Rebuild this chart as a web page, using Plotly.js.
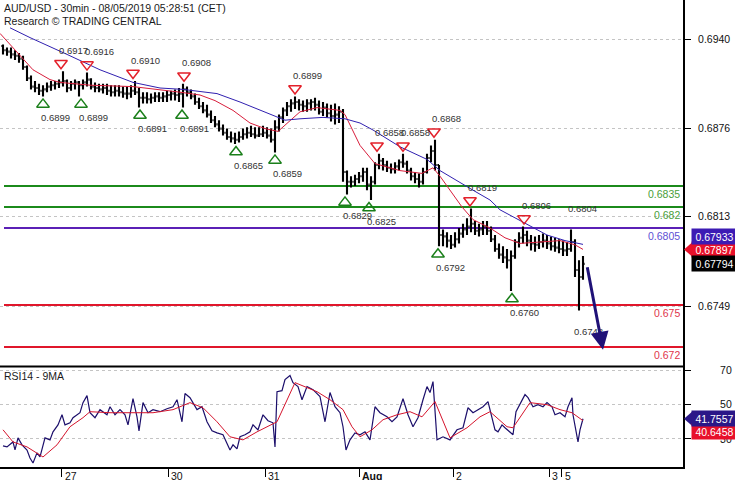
<!DOCTYPE html>
<html><head><meta charset="utf-8">
<script src="https://cdn.plot.ly/plotly-3.0.1.min.js"></script>
<style>html,body{margin:0;padding:0;background:#fff;}#chart{width:735px;height:480px;}</style>
</head><body><div id="chart"></div>
<script>
// ---- hourly bars (high / low / close) ----
const barHigh = [.6936,.6934,.6934,.6932,.6930,.6928,.6921,.6914,.6910,.6908,.6907,.6909,.6910,.6910,.6911,.6917,.6911,.6910,.6911,.6910,
.6911,.6916,.6912,.6909,.6908,.6908,.6908,.6907,.6907,.6907,.6906,.6906,.6907,.6910,.6905,.6902,.6902,.6901,.6902,.6902,
.6902,.6903,.6903,.6904,.6905,.6908,.6906,.6904,.6901,.6898,.6895,.6893,.6889,.6885,.6882,.6879,.6876,.6874,.6873,.6874,
.6876,.6877,.6878,.6877,.6877,.6878,.6877,.6876,.6882,.6886,.6891,.6895,.6897,.6899,.6897,.6896,.6897,.6897,.6898,.6896,
.6895,.6894,.6893,.6894,.6892,.6890,.6846,.6842,.6843,.6845,.6848,.6848,.6842,.6852,.6858,.6855,.6853,.6851,.6852,.6854,
.6858,.6853,.6848,.6845,.6844,.6848,.6858,.6864,.6868,.6850,.6804,.6802,.6800,.6802,.6805,.6808,.6812,.6819,.6810,.6808,
.6810,.6810,.6806,.6800,.6794,.6792,.6790,.6789,.6797,.6802,.6806,.6803,.6800,.6799,.6800,.6801,.6800,.6799,.6798,.6797,
.6796,.6795,.6804,.6797,.6782,.6785];
const barLow = [.6929,.6928,.6926,.6925,.6923,.6918,.6910,.6904,.6902,.6900,.6899,.6902,.6903,.6904,.6905,.6906,.6902,.6903,.6904,.6899,
.6904,.6906,.6904,.6902,.6902,.6901,.6900,.6899,.6899,.6899,.6898,.6897,.6898,.6900,.6891,.6894,.6894,.6894,.6895,.6895,
.6895,.6895,.6896,.6896,.6895,.6891,.6899,.6897,.6893,.6890,.6887,.6884,.6880,.6877,.6874,.6871,.6868,.6866,.6865,.6866,
.6868,.6869,.6870,.6869,.6870,.6870,.6869,.6866,.6859,.6874,.6880,.6885,.6888,.6890,.6889,.6888,.6888,.6889,.6889,.6886,
.6885,.6884,.6881,.6879,.6880,.6838,.6829,.6834,.6835,.6837,.6838,.6832,.6825,.6836,.6847,.6846,.6845,.6844,.6844,.6846,
.6848,.6844,.6839,.6837,.6834,.6836,.6844,.6852,.6846,.6792,.6792,.6791,.6790,.6791,.6794,.6798,.6800,.6802,.6800,.6799,
.6800,.6800,.6795,.6788,.6783,.6780,.6776,.6760,.6783,.6791,.6794,.6792,.6789,.6788,.6790,.6791,.6790,.6789,.6788,.6787,
.6785,.6785,.6788,.6770,.6746,.6768];
const barClose = [.6932,.6931,.6929,.6928,.6926,.6920,.6912,.6906,.6905,.6903,.6904,.6906,.6907,.6908,.6909,.6910,.6905,.6908,.6909,.6907,
.6909,.6911,.6906,.6905,.6904,.6905,.6903,.6902,.6903,.6902,.6901,.6901,.6903,.6902,.6898,.6898,.6897,.6898,.6899,.6898,
.6899,.6900,.6901,.6900,.6901,.6904,.6902,.6899,.6895,.6892,.6889,.6886,.6882,.6879,.6876,.6873,.6870,.6869,.6868,.6870,
.6872,.6873,.6872,.6871,.6872,.6873,.6871,.6868,.6877,.6884,.6889,.6892,.6894,.6895,.6893,.6892,.6894,.6895,.6893,.6888,
.6891,.6887,.6885,.6886,.6888,.6845,.6838,.6838,.6840,.6842,.6845,.6836,.6838,.6850,.6853,.6850,.6848,.6847,.6849,.6852,
.6851,.6846,.6842,.6840,.6838,.6845,.6855,.6860,.6850,.6800,.6799,.6796,.6793,.6797,.6801,.6804,.6806,.6808,.6803,.6804,
.6806,.6803,.6797,.6790,.6786,.6784,.6782,.6785,.6795,.6798,.6800,.6796,.6794,.6793,.6795,.6796,.6794,.6792,.6791,.6790,
.6789,.6790,.6795,.6775,.6770,.67794];
const firstOpen = 0.6935;

// ---- moving averages on price (x in half-hour bar units) ----
const redMaX = [0,7.5,16.5,25,30,45,66.5,90,100,107.5,116.5,125,132.5,139,145,150,158.5,165,170,172.5,180,187.5,195,200,211,216.5,220,225,231,236.5,245,252.5,260,270,280,287.5,291.5];
const redMaY = [.6944,.6932,.6918,.6911,.6909,.6907,.6906,.6902,.6900,.6896,.6889,.6880,.6876,.6874,.6882,.6888,.6891,.6890,.6889,.6886,.6864,.6851,.6848,.6846,.6844,.6848,.6842,.6832,.6820,.6811,.6805,.6798,.6794,.6795,.6796,.6793,.67897];
const blueMaX = [5,15,33.5,50,66.5,80,91.5,108.5,120,130,138.5,142.5,150,161.5,172.5,180,186.5,200,213.5,220,236.5,245,250,261.5,273.5,282.5,291.5];
const blueMaY = [.6948,.6941,.6929,.6918,.6909,.6905,.6904,.6901,.6895,.6889,.6884,.6882,.6883,.6884,.6883,.6880,.6875,.6863,.6854,.6846,.6832,.6825,.6818,.6809,.6800,.6796,.67933];

// ---- RSI14 and its 9MA ----
const rsiX = [1.5,3.5,6.5,7.5,9,11,13.5,15,16.5,18.5,20,22.5,25,26.5,29,31,32.5,35,36.5,40,41.5,43.5,45,47.5,50,53.5,55,57.5,60,62.5,
64,66.5,68.5,69.5,71.5,74,76.5,80,83.5,86.5,88.5,91,92.5,95,98.5,101,103.5,106,108.5,111.5,115,116.5,118.5,120,122.5,125,126.5,129,131.5,134,
136.5,137.5,138.5,141,142.5,145,146.5,149,151,153.5,156.5,160,162.5,165,167.5,170,171.5,173,175,177.5,180,182.5,185,187.5,190,193.5,196,198.5,201.5,204,
206.5,209,211.5,213.5,215,216.5,218.5,221.5,225,228.5,231.5,234,236.5,239,241.5,244,246,247.5,249,251,252.5,255,256.5,258,260,262.5,264,266.5,269,271.5,
273.5,276,277.5,280,282.5,284,286,286.5,289,290,291.5];
const rsiY = [25.9,25.3,28.2,23.5,30.6,26.5,23.5,18.8,15.9,21.8,19.4,30.6,29.4,34.1,38.2,44.1,38.2,39.4,42.4,45.3,51.2,55.3,45.3,42.4,47.1,44.1,48.8,44.1,47.1,44.1,
38.2,53.5,42.9,34.7,51.2,45.3,47.1,45.9,47.6,48.8,52.9,40,56.5,54.1,47.1,48.8,40,34.7,33.5,32.4,23.5,26.5,24.1,31.2,32.4,34.1,38.2,35.3,44.1,40.6,
39.4,25.3,57.6,58.2,64.7,67.1,62.9,60.6,52.9,60.6,58.8,54.7,40,57.1,48.8,45.3,37.1,23.5,29.4,33.5,32.4,34.1,29.4,48.8,45.3,42.9,40,42.9,53.5,44.1,
37.1,42.4,52.9,60.6,57.1,63.5,29.4,31.2,29.4,35.3,36.5,48.2,45.3,47.1,48.8,51.8,42.4,35.3,34.1,38.2,36.5,34.1,32.4,45.9,50,55.9,54.1,48.8,50,48.8,
51.2,48.8,44.1,45.3,42.9,48.8,54.1,44.1,28.2,35.3,41.7557];
const rsiMaX = [1.5,6.5,13.5,21.5,28.5,35,41.5,45,55,66.5,76.5,86.5,95,101.5,108.5,115,121.5,128.5,138.5,147.5,158.5,165,171.5,176,180,186,191.5,198.5,205,211,217.5,225,233.5,240,245,253.5,256.5,265,273.5,280,286,291.5];
const rsiMaY = [35.3,28.2,25.3,19.4,26.5,37.1,42.4,45.9,45.3,45.3,45.3,47.1,51.2,48.2,40,31.2,29.4,34.1,40,62.9,57.6,52.9,47.1,37.1,31.2,35.3,41.2,44.1,45.9,42.9,51.8,30.6,36.5,42.9,45.9,37.1,36.5,51.2,50,47.1,45.3,40.6458];

// ---- swing highs / lows ----
const highX = [30.5,43.5,66.5,92,147.5,188.5,201.5,217,235,262];
const highVal = [0.6917,0.6916,0.6910,0.6908,0.6899,0.6858,0.6858,0.6868,0.6819,0.6806];
const lowX = [21.5,40.5,70,91,118,137.5,172.5,184.5,219,256];
const lowVal = [0.6899,0.6899,0.6891,0.6891,0.6865,0.6859,0.6829,0.6825,0.6792,0.6760];
const noteHighX = [285], noteHighVal = [0.6804];
const noteLowX = [288], noteLowVal = [0.6748];

// ---- key levels ----
const levelVals = [0.6835, 0.682, 0.6805, 0.675, 0.672];
const levelText = ['0.6835', '0.682', '0.6805', '0.675', '0.672'];
const levelType = ['up', 'up', 'pivot', 'down', 'down'];

// ---- axes ----
const priceTicks = [0.6940, 0.6876, 0.6813, 0.6749];
const priceTickText = ['0.6940', '0.6876', '0.6813', '0.6749'];
const rsiTicks = [70, 50, 30];
const dayTickX = [30.75, 84.15, 132.5, 179.5, 226.65, 274.5, 280.85];
const dayTickText = ['27', '30', '31', '<b>Aug</b>', '2', '3', '5'];

// ---- last values / forecast ----
const lastClose = 0.67794, lastRedMa = 0.67897, lastBlueMa = 0.67933;
const lastRsi = 41.7557, lastRsiMa = 40.6458;
const forecastFrom = [293.5, 0.6778], forecastTo = [301.5, 0.6718];

// ================= build =================
const FONT = '"Liberation Sans", Arial, sans-serif';
const barX = barClose.map((_, i) => 2 * i + 1.5);
const barOpen = [firstOpen].concat(barClose.slice(0, -1));
const triOff = 0.00057;

const traces = [
  {type:'ohlc', x:barX, open:barOpen, high:barHigh, low:barLow, close:barClose, xaxis:'x', yaxis:'y',
   increasing:{line:{color:'#000', width:2.1}}, decreasing:{line:{color:'#000', width:2.1}},
   tickwidth:0.4, hoverinfo:'skip'},
  {type:'scatter', mode:'lines', x:redMaX, y:redMaY, line:{color:'#d81e3c', width:1}, hoverinfo:'skip'},
  {type:'scatter', mode:'lines', x:blueMaX, y:blueMaY, line:{color:'#3020b0', width:1}, hoverinfo:'skip'},
  {type:'scatter', mode:'markers', x:highX, y:highVal.map(v => v + triOff), cliponaxis:false,
   marker:{symbol:'triangle-down-open', size:11, color:'#e3202a', line:{width:1.5, color:'#e3202a'}}, hoverinfo:'skip'},
  {type:'scatter', mode:'markers', x:lowX, y:lowVal.map(v => v - triOff), cliponaxis:false,
   marker:{symbol:'triangle-up-open', size:11, color:'#1a7f1a', line:{width:1.5, color:'#1a7f1a'}}, hoverinfo:'skip'},
  {type:'scatter', mode:'lines', x:rsiX, y:rsiY, xaxis:'x', yaxis:'y2', line:{color:'#1c0f6b', width:1.2}, hoverinfo:'skip'},
  {type:'scatter', mode:'lines', x:rsiMaX, y:rsiMaY, xaxis:'x', yaxis:'y2', line:{color:'#d4142c', width:1}, hoverinfo:'skip'}
];

const levelLine = {up:'#1b8a1b', pivot:'#5b20b6', down:'#e0162b'};
const levelFont = {up:'#4a9e3a', pivot:'#6050d4', down:'#e0354b'};

const shapes = [];
const annotations = [];
levelVals.forEach((v, i) => {
  shapes.push({type:'line', xref:'paper', yref:'y', x0:4/683, x1:1, y0:v, y1:v, layer:'below',
    line:{color:levelLine[levelType[i]], width:2}});
  annotations.push({xref:'paper', yref:'y', x:1, y:v, xanchor:'right', yanchor:'middle', xshift:-1, yshift:-7.5,
    text:levelText[i], showarrow:false, font:{family:FONT, size:10.5, color:levelFont[levelType[i]]}});
});
// panel separator
shapes.push({type:'line', xref:'paper', yref:'paper', x0:0, x1:1, y0:0.2152, y1:0.2152, line:{color:'#000', width:2}});

function ptLabel(x, v, dy) {
  annotations.push({xref:'x', yref:'y', x:x, y:v, xanchor:'left', yanchor:'middle', xshift:-4, yshift:dy,
    text:v.toFixed(4), showarrow:false, font:{family:FONT, size:9.5, color:'#333'}});
}
highX.forEach((x, i) => ptLabel(x, highVal[i], 21));
lowX.forEach((x, i) => ptLabel(x, lowVal[i], -21));
noteHighX.forEach((x, i) => ptLabel(x, noteHighVal[i], 21));
noteLowX.forEach((x, i) => ptLabel(x, noteLowVal[i], -24));

// forecast arrow
annotations.push({xref:'x', yref:'y', axref:'x', ayref:'y', x:forecastTo[0], y:forecastTo[1], ax:forecastFrom[0], ay:forecastFrom[1],
  text:'', showarrow:true, arrowhead:2, arrowsize:1.2, arrowwidth:3, arrowcolor:'#1f1177', standoff:0});

// day labels
dayTickX.forEach((x, i) => annotations.push({xref:'x', yref:'paper', x:x, y:0, xanchor:'left', yanchor:'top', xshift:1, yshift:-1,
  text:dayTickText[i], showarrow:false, font:{family:FONT, size:10.5, color:'#111'}}));

// titles
annotations.push({xref:'paper', yref:'paper', x:0, y:1, xanchor:'left', yanchor:'top', xshift:2, yshift:0,
  text:'AUD/USD - 30min - 08/05/2019 05:28:51 (CET)', showarrow:false, font:{family:FONT, size:10.5, color:'#1a1a1a'}});
annotations.push({xref:'paper', yref:'paper', x:0, y:1, xanchor:'left', yanchor:'top', xshift:2, yshift:-13,
  text:'Research © TRADING CENTRAL', showarrow:false, font:{family:FONT, size:10.5, color:'#1a1a1a'}});
annotations.push({xref:'paper', yref:'paper', x:0, y:0.2141, xanchor:'left', yanchor:'top', xshift:2, yshift:-1,
  text:'RSI14 - 9MA', showarrow:false, font:{family:FONT, size:10.5, color:'#1a1a1a'}});

// value boxes on the right
function valBox(yref, v, txt, bg, dy) {
  annotations.push({xref:'paper', yref:yref, x:1, y:v, xanchor:'left', yanchor:'middle', xshift:8, yshift:dy,
    text:txt, showarrow:false, bgcolor:bg, width:43, height:13, borderpad:1, align:'center',
    font:{family:FONT, size:10.5, color:'#fff'}});
}
function pointer(yref, v, col) {
  shapes.push({type:'path', xref:'paper', xsizemode:'pixel', xanchor:1, yref:yref, ysizemode:'pixel', yanchor:v,
    path:'M1,0 L9,7 L9,-7 Z', fillcolor:col, line:{width:0}});
}
pointer('y', lastRedMa, '#e8102a');
valBox('y', lastRedMa, lastRedMa.toFixed(5), '#e8102a', 0);
valBox('y', lastBlueMa, lastBlueMa.toFixed(5), '#3c1bb4', 8);
valBox('y', lastClose, lastClose.toFixed(5), '#000', 0);
valBox('y2', lastRsiMa, lastRsiMa.toFixed(4), '#e8102a', -11);
pointer('y2', lastRsi, '#2a1788');
valBox('y2', lastRsi, lastRsi.toFixed(4), '#2a1788', 0);

const gridStyle = {showgrid:true, gridcolor:'#c4c4c4', griddash:'dot', gridwidth:1};
const layout = {
  width:735, height:480, margin:{l:0, r:52, t:0, b:13, pad:0},
  paper_bgcolor:'#fff', plot_bgcolor:'#fff', showlegend:false,
  font:{family:FONT, size:10.5, color:'#111'},
  xaxis:{range:[0, 341.5], anchor:'y2', showgrid:false, zeroline:false, showline:true, linecolor:'#000', linewidth:2,
    ticks:'outside', ticklen:8, tickcolor:'#000', tickwidth:1, tickmode:'array', tickvals:dayTickX, showticklabels:false,
    rangeslider:{visible:false}, fixedrange:true},
  yaxis:Object.assign({domain:[0.2152, 1], range:[0.670607, 0.696786], side:'right', showline:true, linecolor:'#000', linewidth:2,
    ticks:'outside', ticklen:6, tickcolor:'#000', tickmode:'array', tickvals:priceTicks, ticktext:priceTickText,
    zeroline:false, ticklabelstandoff:5, tickfont:{family:FONT, size:10.5, color:'#111'}, fixedrange:true}, gridStyle),
  yaxis2:Object.assign({domain:[0, 0.2152], range:[13.53, 72.35], side:'right', anchor:'x', showline:true, linecolor:'#000', linewidth:2,
    ticks:'outside', ticklen:6, tickcolor:'#000', tickmode:'array', tickvals:rsiTicks, ticktext:rsiTicks.map(String),
    zeroline:false, ticklabelstandoff:27, tickfont:{family:FONT, size:10.5, color:'#111'}, fixedrange:true}, gridStyle),
  shapes:shapes, annotations:annotations
};
Plotly.newPlot('chart', traces, layout, {displayModeBar:false, staticPlot:true});
</script></body></html>
